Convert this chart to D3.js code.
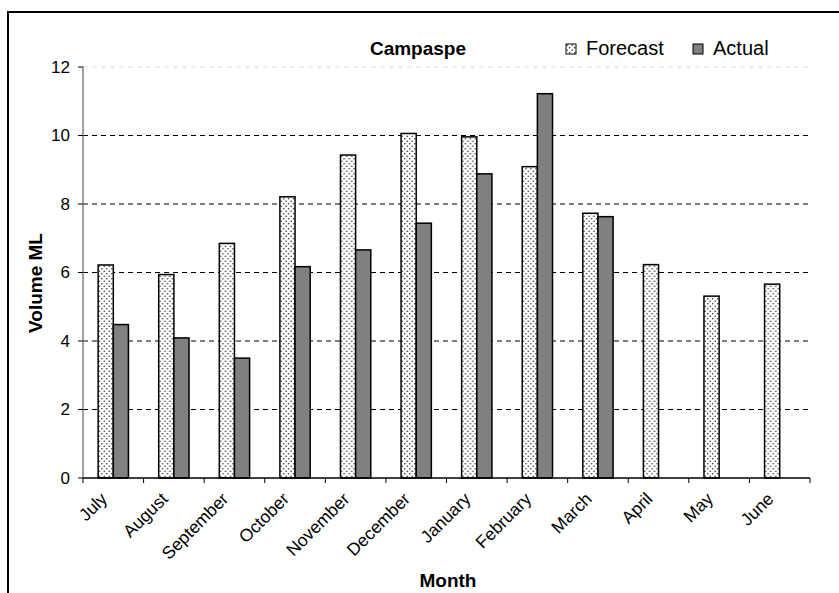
<!DOCTYPE html>
<html lang="en">
<head>
  <meta charset="UTF-8">
  <title>Campaspe</title>
  <script src="https://d3js.org/d3.v7.min.js"></script>
  <style>
    body { margin: 0; background: #fff; }
    svg text { font-family: "Liberation Sans", Arial, sans-serif; fill: #000; }
  </style>
</head>
<body>
  <div id="chart"></div>

  <script>
    // ------------------------ Data ------------------------
    const months = ["July", "August", "September", "October", "November", "December",
                    "January", "February", "March", "April", "May", "June"];
    const forecast = [6.22, 5.94, 6.85, 8.21, 9.43, 10.06, 9.96, 9.09, 7.73, 6.23, 5.31, 5.66];
    const actual = [4.48, 4.09, 3.50, 6.17, 6.66, 7.44, 8.88, 11.22, 7.63, null, null, null];
    const yTicks = [0, 2, 4, 6, 8, 10, 12];
    const seriesNames = ["Forecast", "Actual"];

    // ------------------------ Setup ------------------------
    const W = 839, H = 593;
    const plot = { left: 83, right: 810, top: 67, bottom: 478 };

    const svg = d3.select("#chart").append("svg")
      .attr("width", W).attr("height", H);

    // dotted fill used for the forecast bars
    const defs = svg.append("defs");
    const pat = defs.append("pattern")
      .attr("id", "dots")
      .attr("patternUnits", "userSpaceOnUse")
      .attr("width", 5).attr("height", 5);
    pat.append("rect").attr("width", 5).attr("height", 5).attr("fill", "#fff");
    pat.append("circle").attr("cx", 1.2).attr("cy", 1.2).attr("r", 0.75).attr("fill", "#222");
    pat.append("circle").attr("cx", 3.7).attr("cy", 3.7).attr("r", 0.75).attr("fill", "#222");

    // outer chart frame (runs off the right/bottom edge)
    svg.append("rect")
      .attr("x", 8).attr("y", 12)
      .attr("width", 900).attr("height", 700)
      .attr("fill", "none").attr("stroke", "#000").attr("stroke-width", 2);

    // ------------------------ Scales ------------------------
    const x0 = d3.scaleBand().domain(months)
      .range([plot.left, plot.right])
      .paddingInner(0.5).paddingOuter(0.25);
    const x1 = d3.scaleBand().domain(seriesNames)
      .range([0, x0.bandwidth()]);
    const y = d3.scaleLinear().domain([0, 12]).range([plot.bottom, plot.top]);

    // ------------------------ Gridlines ------------------------
    svg.append("g").selectAll("line")
      .data(yTicks.filter(d => d > 0))
      .enter().append("line")
      .attr("x1", plot.left).attr("x2", plot.right)
      .attr("y1", d => y(d)).attr("y2", d => y(d))
      .attr("stroke", d => d === 12 ? "#ddd" : "#000")
      .attr("stroke-width", 1)
      .attr("stroke-dasharray", "5,4");

    // ------------------------ Bars ------------------------
    const groups = svg.append("g").selectAll("g")
      .data(months.map((m, i) => ({ month: m, vals: [
        { key: "Forecast", v: forecast[i] },
        { key: "Actual", v: actual[i] }
      ] })))
      .enter().append("g")
      .attr("transform", d => `translate(${x0(d.month)},0)`);

    groups.selectAll("rect")
      .data(d => d.vals.filter(v => v.v != null))
      .enter().append("rect")
      .attr("x", d => x1(d.key))
      .attr("y", d => y(d.v))
      .attr("width", x1.bandwidth())
      .attr("height", d => y(0) - y(d.v))
      .attr("fill", d => d.key === "Forecast" ? "url(#dots)" : "#808080")
      .attr("stroke", "#000")
      .attr("stroke-width", 1.5);

    // ------------------------ Axes ------------------------
    const yAxis = svg.append("g");
    yAxis.append("line")
      .attr("x1", plot.left).attr("x2", plot.left)
      .attr("y1", plot.top).attr("y2", plot.bottom)
      .attr("stroke", "#808080").attr("stroke-width", 1.5);
    yAxis.selectAll(".tick").data(yTicks).enter().append("line")
      .attr("x1", plot.left - 5).attr("x2", plot.left)
      .attr("y1", d => y(d)).attr("y2", d => y(d))
      .attr("stroke", "#000");
    yAxis.selectAll("text").data(yTicks).enter().append("text")
      .attr("x", 70).attr("y", d => y(d))
      .attr("dy", "0.35em")
      .attr("text-anchor", "end")
      .style("font-size", "17px")
      .text(d => d);

    const step = x0.step();
    const xAxis = svg.append("g");
    xAxis.append("line")
      .attr("x1", plot.left).attr("x2", plot.right)
      .attr("y1", plot.bottom).attr("y2", plot.bottom)
      .attr("stroke", "#000").attr("stroke-width", 1.5);
    xAxis.selectAll(".tick").data(d3.range(months.length + 1)).enter().append("line")
      .attr("x1", i => plot.left + i * step).attr("x2", i => plot.left + i * step)
      .attr("y1", plot.bottom).attr("y2", plot.bottom + 5)
      .attr("stroke", "#000");
    xAxis.selectAll("text").data(months).enter().append("text")
      .attr("transform", d => `translate(${x0(d) + x0.bandwidth() / 2 - 5},${plot.bottom + 22}) rotate(-45)`)
      .attr("text-anchor", "end")
      .style("font-size", "17.5px")
      .text(d => d);

    // ------------------------ Titles ------------------------
    svg.append("text")
      .attr("x", 418).attr("y", 55)
      .attr("text-anchor", "middle")
      .style("font-size", "19px").style("font-weight", "bold")
      .text("Campaspe");

    svg.append("text")
      .attr("x", 448).attr("y", 587)
      .attr("text-anchor", "middle")
      .style("font-size", "19px").style("font-weight", "bold")
      .text("Month");

    svg.append("text")
      .attr("transform", "translate(42,283) rotate(-90)")
      .attr("text-anchor", "middle")
      .style("font-size", "19px").style("font-weight", "bold")
      .text("Volume ML");

    // ------------------------ Legend ------------------------
    const legendX = [566, 693];
    const legend = svg.append("g").selectAll("g")
      .data(seriesNames)
      .enter().append("g")
      .attr("transform", (d, i) => `translate(${legendX[i]},44)`);
    legend.append("rect")
      .attr("width", 10).attr("height", 10)
      .attr("fill", d => d === "Forecast" ? "url(#dots)" : "#808080")
      .attr("stroke", "#000").attr("stroke-width", 1);
    legend.append("text")
      .attr("x", 20).attr("y", 11)
      .style("font-size", "20px")
      .text(d => d);
  </script>
</body>
</html>
